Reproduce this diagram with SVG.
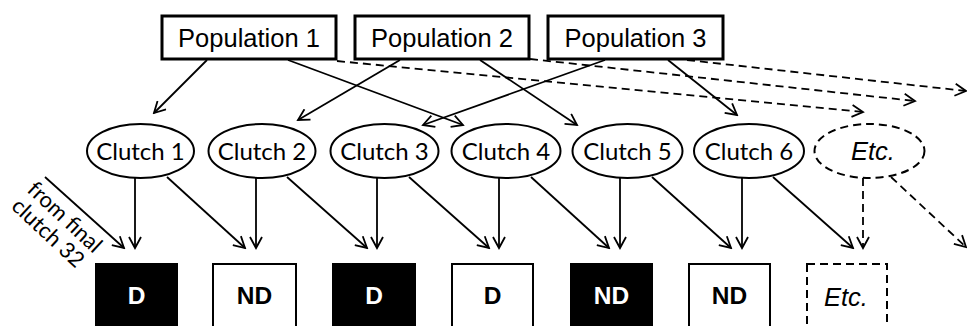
<svg xmlns="http://www.w3.org/2000/svg" width="967" height="326" viewBox="0 0 967 326">
  <style>
    .pop rect { fill: #fff; stroke: #000; stroke-width: 3; }
    .pop text { font-family: "Liberation Sans", Arial, sans-serif; font-size: 25.5px; text-anchor: middle; }
    .clutch ellipse { fill: #fff; stroke: #000; stroke-width: 2; }
    .clutch text { font-family: Lato, "Open Sans", sans-serif; font-size: 24px; text-anchor: middle; }
    .dashed { stroke-dasharray: 8 5; }
    .res rect { stroke: #000; stroke-width: 2; }
    .res text { font-family: "Liberation Sans", Arial, sans-serif; font-weight: bold; font-size: 24.5px; text-anchor: middle; }
    .dark rect { fill: #000; }
    .dark text { fill: #fff; }
    .light rect { fill: #fff; }
    .etc text { font-family: "Liberation Sans", Arial, sans-serif; font-style: italic; font-weight: normal; font-size: 25.5px; text-anchor: middle; }
    .edges line { stroke: #000; stroke-width: 1.8; fill: none; marker-end: url(#arrow); }
    .note { font-family: Lato, "Open Sans", sans-serif; font-size: 22px; }
  </style>
  <defs>
    <marker id="arrow" markerUnits="userSpaceOnUse" markerWidth="14" markerHeight="14" viewBox="0 0 14 14" refX="12" refY="7" orient="auto">
      <path d="M1,1 L12,7 L1,13" fill="none" stroke="#000" stroke-width="1.8"/>
    </marker>
  </defs>

  <!-- connectors -->
  <g id="connectors" class="edges">
    <!-- populations to clutches -->
    <line x1="207" y1="60" x2="154" y2="113"/>
    <line x1="288" y1="60" x2="463" y2="125"/>
    <line x1="400" y1="60" x2="298" y2="120"/>
    <line x1="480" y1="60" x2="577" y2="125"/>
    <line x1="605" y1="60" x2="423" y2="125"/>
    <line x1="668" y1="60" x2="737" y2="115"/>
    <!-- populations to further clutches -->
    <line class="dashed" x1="337" y1="61" x2="863" y2="112"/>
    <line class="dashed" x1="530" y1="59" x2="915" y2="101"/>
    <line class="dashed" x1="687" y1="60" x2="966" y2="91"/>
    <!-- clutches to results -->
    <line x1="45" y1="177" x2="124" y2="248"/>
    <line x1="135" y1="178" x2="135" y2="248"/>
    <line x1="167" y1="177" x2="245" y2="248"/>
    <line x1="256" y1="178" x2="256" y2="248"/>
    <line x1="287" y1="177" x2="367" y2="248"/>
    <line x1="377" y1="178" x2="377" y2="248"/>
    <line x1="409" y1="177" x2="489" y2="248"/>
    <line x1="499" y1="178" x2="499" y2="248"/>
    <line x1="531" y1="177" x2="609" y2="248"/>
    <line x1="620" y1="178" x2="620" y2="248"/>
    <line x1="652" y1="177" x2="731" y2="248"/>
    <line x1="742" y1="178" x2="742" y2="248"/>
    <line x1="773" y1="177" x2="853" y2="248"/>
    <line class="dashed" x1="863" y1="178" x2="863" y2="248"/>
    <line class="dashed" x1="891" y1="177" x2="966" y2="247"/>
  </g>

  <text class="note" transform="translate(26,191) rotate(43)">from final<tspan x="0" dy="23">clutch 32</tspan></text>

  <!-- populations -->
  <g id="pop1" class="pop"><rect x="162" y="16" width="174" height="43"/><text x="249" y="47">Population 1</text></g>
  <g id="pop2" class="pop"><rect x="355" y="16" width="174" height="43"/><text x="442" y="47">Population 2</text></g>
  <g id="pop3" class="pop"><rect x="548" y="16" width="175" height="43"/><text x="635.5" y="47">Population 3</text></g>

  <!-- clutches -->
  <g id="clutch1" class="clutch"><ellipse cx="140.5" cy="151" rx="53.5" ry="27"/><text x="140.5" y="160">Clutch 1</text></g>
  <g id="clutch2" class="clutch"><ellipse cx="262" cy="151" rx="53.5" ry="27"/><text x="262" y="160">Clutch 2</text></g>
  <g id="clutch3" class="clutch"><ellipse cx="384.5" cy="151" rx="54" ry="27"/><text x="384.5" y="160">Clutch 3</text></g>
  <g id="clutch4" class="clutch"><ellipse cx="506" cy="151" rx="54.5" ry="27"/><text x="506" y="160">Clutch 4</text></g>
  <g id="clutch5" class="clutch"><ellipse cx="627.5" cy="151" rx="55" ry="27"/><text x="627.5" y="160">Clutch 5</text></g>
  <g id="clutch6" class="clutch"><ellipse cx="749" cy="151" rx="55" ry="27"/><text x="749" y="160">Clutch 6</text></g>
  <g id="clutch-etc" class="clutch etc"><ellipse class="dashed" cx="869.5" cy="151" rx="55" ry="27"/><text x="873" y="160">Etc.</text></g>

  <!-- results -->
  <g id="res1" class="res dark"><rect x="96" y="264" width="81" height="80"/><text x="136.5" y="304">D</text></g>
  <g id="res2" class="res light"><rect x="213" y="264" width="83" height="80"/><text x="254.5" y="304">ND</text></g>
  <g id="res3" class="res dark"><rect x="333" y="264" width="82" height="80"/><text x="374" y="304">D</text></g>
  <g id="res4" class="res light"><rect x="452" y="264" width="81" height="80"/><text x="492.5" y="304">D</text></g>
  <g id="res5" class="res dark"><rect x="571" y="264" width="81" height="80"/><text x="611.5" y="304">ND</text></g>
  <g id="res6" class="res light"><rect x="689" y="264" width="81" height="80"/><text x="729.5" y="304">ND</text></g>
  <g id="res-etc" class="res light etc"><rect class="dashed" x="807" y="264" width="80" height="80"/><text x="846" y="306">Etc.</text></g>
</svg>
